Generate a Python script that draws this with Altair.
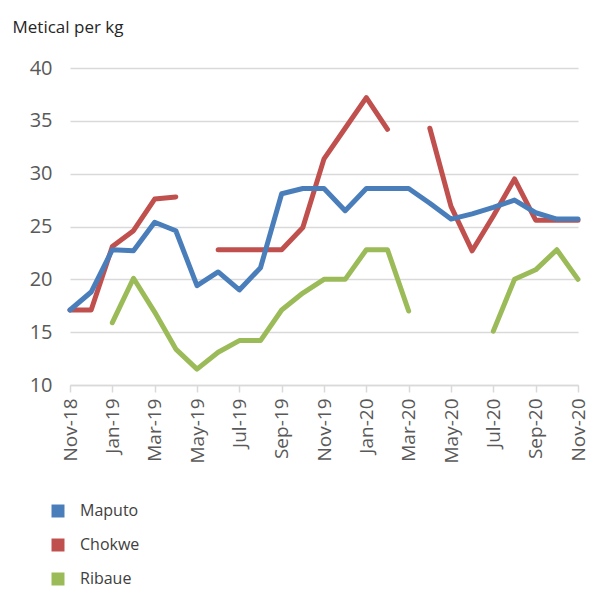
import altair as alt
import pandas as pd

months = ["Nov-18", "Dec-18", "Jan-19", "Feb-19", "Mar-19", "Apr-19", "May-19", "Jun-19",
          "Jul-19", "Aug-19", "Sep-19", "Oct-19", "Nov-19", "Dec-19", "Jan-20", "Feb-20",
          "Mar-20", "Apr-20", "May-20", "Jun-20", "Jul-20", "Aug-20", "Sep-20", "Oct-20", "Nov-20"]
tick_labels = months[::2]

maputo = [17.1, 18.8, 22.8, 22.7, 25.4, 24.6, 19.4, 20.7, 19.0, 21.1, 28.1, 28.6, 28.6,
          26.5, 28.6, 28.6, 28.6, 27.2, 25.7, 26.2, 26.8, 27.5, 26.3, 25.7, 25.7]
chokwe = [17.1, 17.1, 23.1, 24.6, 27.6, 27.8, None, 22.8, 22.8, 22.8, 22.8, 24.9, 31.4,
          34.3, 37.2, 34.2, None, 34.3, 26.9, 22.7, 26.0, 29.5, 25.6, 25.6, 25.6]
ribaue = [None, None, 15.9, 20.1, 16.9, 13.4, 11.5, 13.1, 14.2, 14.2, 17.1, 18.7, 20.0,
          20.0, 22.8, 22.8, 17.0, None, None, None, 15.1, 20.0, 20.9, 22.8, 20.0]

series = {"Maputo": maputo, "Chokwe": chokwe, "Ribaue": ribaue}
colors = ["#4a7ebb", "#c0504d", "#9bbb59"]

rows = []
for name, vals in series.items():
    seg = 0
    for i, v in enumerate(vals):
        if v is None:
            seg += 1
            continue
        rows.append({"series": name, "idx": i, "value": v, "seg": f"{name}-{seg}"})
df = pd.DataFrame(rows)

label_js = "[" + ",".join(f"'{t}'" for t in tick_labels) + "]"

color = alt.Color(
    "series:N",
    scale=alt.Scale(domain=list(series.keys()), range=colors),
    legend=alt.Legend(
        title=None, orient="none", legendX=-20, legendY=435, direction="vertical",
        symbolType="square", symbolSize=36, symbolStrokeWidth=7, rowPadding=0,
        labelFontSize=16, labelColor="#404040", labelOffset=14, padding=0,
    ),
)

x = alt.X(
    "idx:Q",
    scale=alt.Scale(domain=[0, 24], nice=False, zero=False),
    axis=alt.Axis(
        title=None, values=list(range(0, 25, 2)), labelExpr=f"{label_js}[datum.value/2]",
        labelAngle=-90, grid=False, domain=True, domainColor="#d9d9d9", domainWidth=1.5,
        ticks=True, tickColor="#d9d9d9", tickSize=7, tickWidth=1.5,
        labelFontSize=19, labelColor="#595959", labelPadding=6,
    ),
)
y = alt.Y(
    "value:Q",
    scale=alt.Scale(domain=[10, 40], nice=False, zero=False),
    axis=alt.Axis(
        title="Metical per kg", titleAngle=0, titleAlign="left", titleBaseline="alphabetic",
        titleX=-58, titleY=-36, titleFontSize=17, titleFontWeight="normal", titleColor="#262626",
        values=list(range(10, 41, 5)), grid=True, gridColor="#d9d9d9", gridWidth=1.5,
        domain=False, ticks=False, labelFontSize=20, labelColor="#595959", labelPadding=18,
    ),
)

base = alt.Chart(df).mark_line(strokeWidth=5, strokeJoin="round", strokeCap="round").encode(
    x=x, y=y, color=color, detail="seg:N"
)

chart = alt.layer(
    base.transform_filter("datum.series != 'Maputo'"),
    base.transform_filter("datum.series == 'Maputo'"),
).properties(
    width=508, height=317, autosize="none",
    padding={"left": 62, "top": 60, "right": 12, "bottom": 205},
).configure(font="Open Sans").configure_view(stroke=None)

chart.save("out.html", embed_options={"renderer": "svg", "actions": False})
